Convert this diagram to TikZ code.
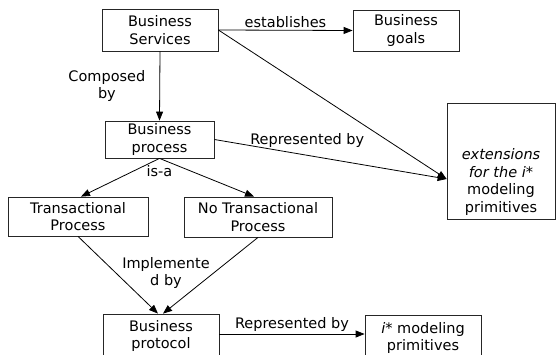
\documentclass[tikz,border=0pt]{standalone}
\usepackage{fontspec}
\setmainfont{DejaVu Sans}
\usetikzlibrary{arrows.meta, positioning}

\begin{document}
\begin{tikzpicture}[
    x=1pt, y=1pt,
    font=\fontsize{14.5}{17.5}\selectfont,
    concept/.style={rectangle, draw=black!85, line width=0.8pt, fill=white,
                    align=center, inner sep=2pt},
    lbl/.style={align=center, inner sep=2pt},
    arrow/.style={-{Triangle[length=9pt, width=7pt]}, line width=0.8pt, draw=black},
]
\useasboundingbox (0,0) rectangle (556,354);

% --- Services and goals ---
\node[concept, minimum width=116, minimum height=42] (services) at (160, 324) {Business\\Services};
\node[concept, minimum width=106, minimum height=41] (goals) at (406, 323.5) {Business\\goals};

% --- Process ---
\node[concept, minimum width=109, minimum height=37] (process) at (159.5, 214.5) {Business\\process};

% Extensions box (text sits low in the box)
\node[concept, minimum width=108, minimum height=116] (ext) at (501, 193) {};
\node[lbl] (exttext) at (501, 172) {\textit{extensions}\\\textit{for the i*}\\modeling\\primitives};
\coordinate (extin) at ([yshift=-18]ext.west);

% --- Kinds of process ---
\node[concept, minimum width=140, minimum height=39] (trans) at (78, 137.5) {Transactional\\Process};
\node[concept, minimum width=148, minimum height=40] (notrans) at (258, 137) {No Transactional\\Process};

% --- Protocol and primitives ---
\node[concept, minimum width=116, minimum height=44] (protocol) at (161, 18) {Business\\protocol};
\node[concept, minimum width=116, minimum height=46] (istar) at (423, 16) {\textit{i}* modeling\\primitives};

% --- Arrows ---
\draw[arrow] (services.east) -- node[lbl, above] (lblest) {establishes} (goals.west);
\draw[arrow] (services.south) -- node[lbl, left=12pt] (lblcomp) {Composed\\by} (process.north);
\draw[arrow] (services.east) -- (extin);
\draw[arrow] (process.east) -- node[lbl, pos=0.4, above=5pt] (lblrep) {Represented by} (extin);

% is-a
\draw[arrow] (process.south) -- ([xshift=3]trans.north);
\draw[arrow] (process.south) -- ([xshift=-4]notrans.north);
\node[lbl, below=5pt of process.south] (isa) {is-a};

% implemented by
\draw[arrow] (trans.south) -- ([xshift=-3]protocol.north);
\draw[arrow] (notrans.south) -- ([xshift=2]protocol.north);
\node[lbl] (impl) at (166, 81) {Implemente\\d by};

\draw[arrow] ([yshift=2]protocol.east) -- node[lbl, above] (lblrep2) {Represented by} ([yshift=2]protocol.east -| istar.west);

\end{tikzpicture}
\end{document}
